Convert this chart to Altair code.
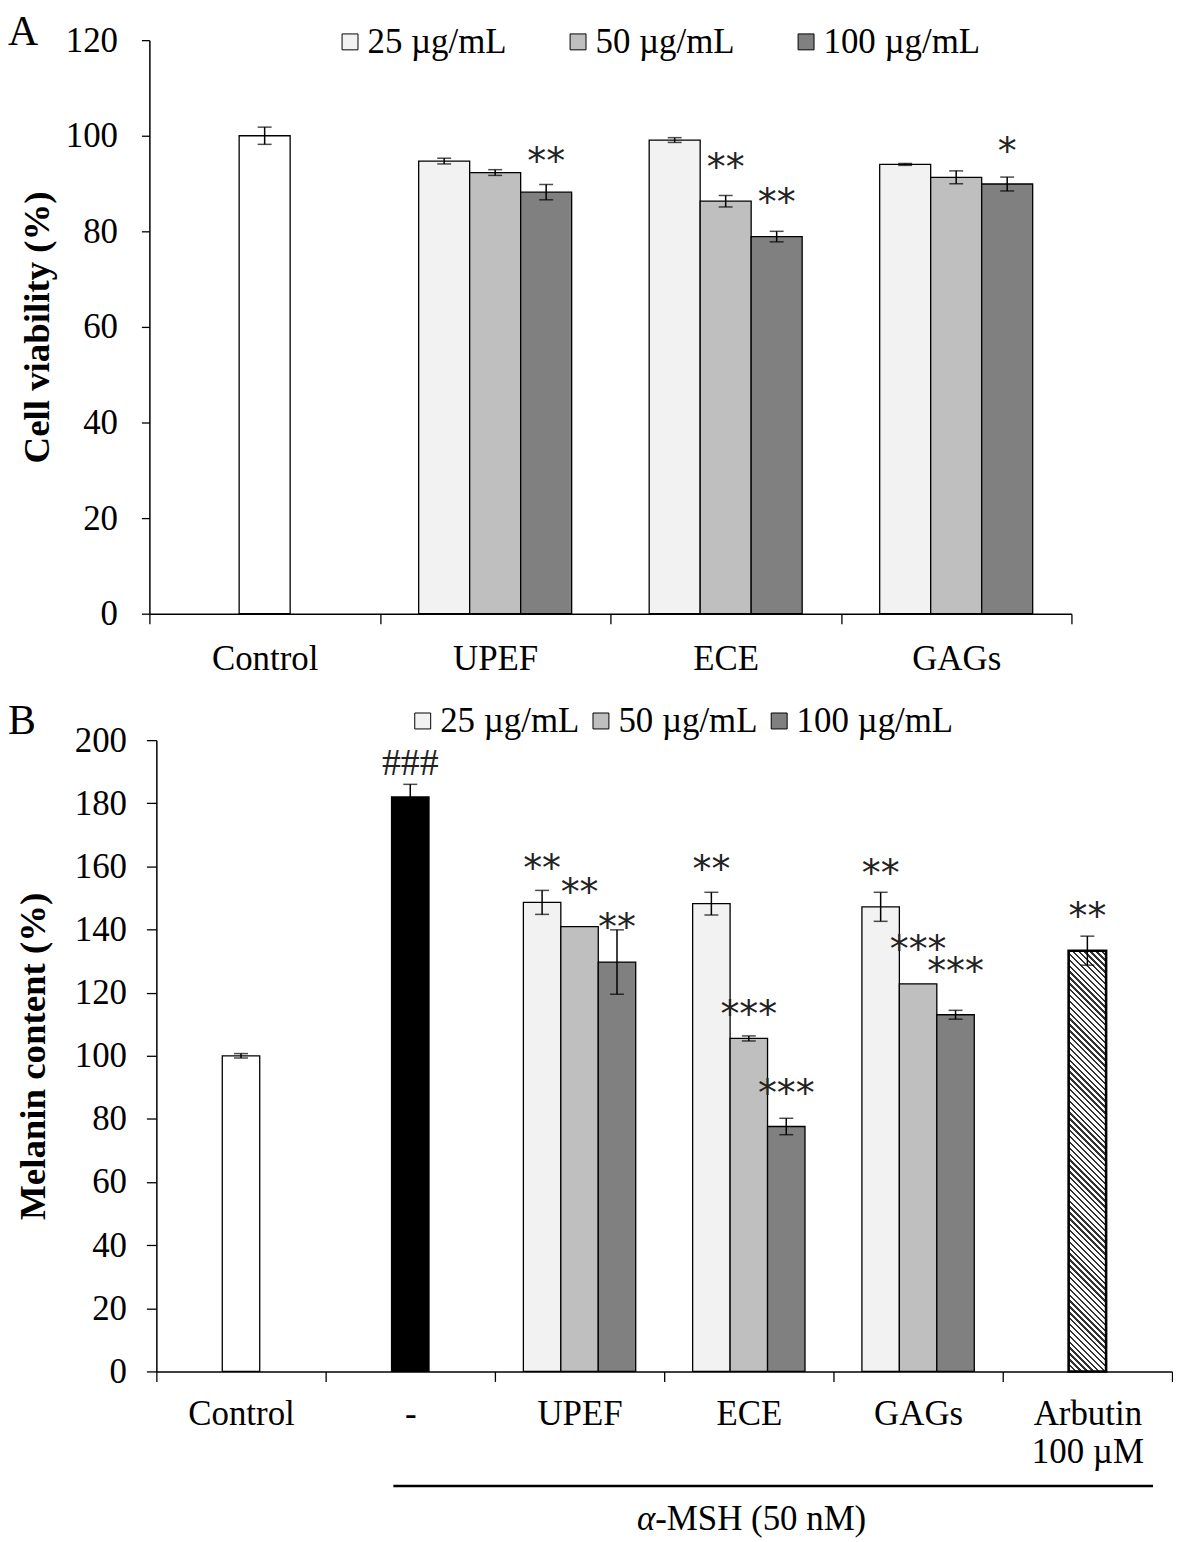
import altair as alt
import pandas as pd

# ---------------- Panel A data (cell viability) ----------------
a_cats = ["Control", "UPEF", "ECE", "GAGs"]
a_cat = ["Control", "UPEF", "UPEF", "UPEF", "ECE", "ECE", "ECE", "GAGs", "GAGs", "GAGs"]
a_grp = ["Control", "25 µg/mL", "50 µg/mL", "100 µg/mL",
         "25 µg/mL", "50 µg/mL", "100 µg/mL",
         "25 µg/mL", "50 µg/mL", "100 µg/mL"]
a_val = [100.0, 94.7, 92.3, 88.2, 99.1, 86.3, 78.9, 94.0, 91.3, 89.9]
a_err = [1.8, 0.6, 0.6, 1.6, 0.5, 1.2, 1.1, 0.2, 1.35, 1.45]
a_sig = ["", "", "", "**", "", "**", "**", "", "", "*"]
# value (in % units) at which each significance mark is centred
a_sig_at = [0, 0, 0, 95.8, 0, 94.4, 87.1, 0, 0, 97.9]

# ---------------- Panel B data (melanin content) ----------------
b_cats = ["Control", "-", "UPEF", "ECE", "GAGs", "Arbutin 100 µM"]
b_cat = ["Control", "-", "UPEF", "UPEF", "UPEF", "ECE", "ECE", "ECE",
         "GAGs", "GAGs", "GAGs", "Arbutin 100 µM"]
b_grp = ["Control", "α-MSH", "25 µg/mL", "50 µg/mL", "100 µg/mL",
         "25 µg/mL", "50 µg/mL", "100 µg/mL",
         "25 µg/mL", "50 µg/mL", "100 µg/mL", "Arbutin"]
b_val = [100.0, 182.0, 148.6, 140.9, 129.7, 148.2, 105.5, 77.6, 147.2, 122.8, 113.0, 133.3]
b_err = [0.7, 4.0, 3.8, 0.0, 10.2, 3.6, 0.8, 2.6, 4.6, 0.0, 1.4, 4.6]
b_sig = ["", "###", "**", "**", "**", "**", "***", "***", "**", "***", "***", "**"]
b_sig_at = [0, 193.1, 160.9, 153.3, 142.3, 160.6, 114.8, 89.9, 159.6, 135.3, 128.4, 145.7]

doses = ["25 µg/mL", "50 µg/mL", "100 µg/mL"]
slot_of = {"25 µg/mL": 0, "50 µg/mL": 1, "100 µg/mL": 2}

SERIF = "Liberation Serif"
FS = 35

SHIFT_A = 7               # panel A plot starts 7px left of panel B's
WA, HA = 926 - SHIFT_A, 576
WB, HB = 1020, 634
POUT = 0.76
ARB_EXPR = "datum.label == 'Arbutin 100 µM' ? ['Arbutin', '100 µM'] : datum.label"


def frame(cat, grp, val, err, sig, sig_at):
    df = pd.DataFrame({"cat": cat, "grp": grp, "val": val, "err": err,
                       "sig": sig, "sig_at": sig_at})
    df["slot"] = [slot_of.get(g, 1) for g in grp]
    df["lo"] = df["val"] - df["err"]
    df["hi"] = df["val"] + df["err"]
    return df


dfa = frame(a_cat, a_grp, a_val, a_err, a_sig, a_sig_at)
dfb = frame(b_cat, b_grp, b_val, b_err, b_sig, b_sig_at)


def x_enc(cats, xlabpad, rng, label_expr=None):
    ax = dict(title=None, labelAngle=0, tickBand="extent", tickSize=10,
              labelFont=SERIF, labelFontSize=FS, labelColor="black",
              domainColor="black", domainWidth=1.5, tickColor="black",
              tickWidth=1.3, labelPadding=xlabpad, labelLineHeight=38)
    if label_expr:
        ax["labelExpr"] = label_expr
    return alt.X("cat:N", sort=cats,
                 scale=alt.Scale(paddingInner=0, paddingOuter=0, range=rng),
                 axis=alt.Axis(**ax))


xoff = alt.XOffset("slot:O", scale=alt.Scale(domain=[0, 1, 2], paddingOuter=POUT, paddingInner=0))


def panel(df, cats, W, H, rng, yoff, ymax, title, color_dom, color_rng, legx, legy, colpad,
          letter, letx, lety, ytick, ylabpad, ytitlepad, xlabpad,
          label_expr=None, extra=None):
    base = alt.Chart(df)
    y = alt.Y("val:Q", scale=alt.Scale(domain=[0, ymax], nice=False),
              axis=alt.Axis(title=title, values=list(range(0, ymax + 1, 20)),
                            grid=False, tickSize=ytick, labelPadding=ylabpad,
                            labelFont=SERIF, labelFontSize=FS, labelColor="black",
                            titleFont=SERIF, titleFontSize=37, titleFontWeight="bold",
                            titleColor="black", titlePadding=ytitlepad,
                            domainColor="black", domainWidth=1.5, offset=yoff,
                            tickColor="black", tickWidth=1.3))
    X = x_enc(cats, xlabpad, rng, label_expr)
    bars = base.transform_filter("datum.grp != 'Arbutin'").mark_bar(
        stroke="black", strokeWidth=1.3).encode(
        x=X, xOffset=xoff, y=y,
        color=alt.Color("grp:N", scale=alt.Scale(domain=color_dom, range=color_rng),
                        legend=alt.Legend(orient="none", legendX=legx, legendY=legy,
                                          direction="horizontal", title=None,
                                          values=doses, symbolType="square",
                                          symbolSize=256, symbolStrokeColor="black",
                                          symbolStrokeWidth=1,
                                          labelFont=SERIF, labelFontSize=FS,
                                          labelColor="black", columnPadding=colpad,
                                          labelOffset=0)))
    eb = base.transform_filter("datum.err > 0")
    rule = eb.mark_rule(color="black", strokeWidth=1.5).encode(
        x=X, xOffset=xoff, y="lo:Q", y2="hi:Q")
    cap_hi = eb.mark_tick(color="black", orient="horizontal", size=14, thickness=1.5).encode(
        x=X, xOffset=xoff, y="hi:Q")
    cap_lo = eb.mark_tick(color="black", orient="horizontal", size=14, thickness=1.5).encode(
        x=X, xOffset=xoff, y="lo:Q")
    stars = base.transform_filter("indexof(datum.sig, '*') >= 0").mark_text(
        font="DejaVu Sans", fontSize=38, color="#222", baseline="middle",
        dy=7).encode(x=X, xOffset=xoff, y="sig_at:Q", text="sig:N")
    hashes = base.transform_filter("indexof(datum.sig, '#') >= 0").mark_text(
        font=SERIF, fontSize=38, color="#222", baseline="middle",
        dy=2).encode(x=X, xOffset=xoff, y="sig_at:Q", text="sig:N")
    let = alt.Chart(pd.DataFrame({"t": [letter]})).mark_text(
        font=SERIF, fontSize=42, color="black", align="left", baseline="alphabetic").encode(
        text="t:N", x=alt.value(letx), y=alt.value(lety))
    layers = [bars, rule, cap_hi, cap_lo, stars, hashes, let]
    if extra:
        layers = layers[:1] + extra[:1] + layers[1:] + extra[1:]
    return alt.layer(*layers).properties(width=W, height=H)


# ---- Panel A ----
pa = panel(dfa, a_cats, WA, HA, [-SHIFT_A, WA], SHIFT_A, 120, "Cell viability (%)",
           ["Control"] + doses, ["white", "#f2f2f2", "#bfbfbf", "#808080"],
           legx=177, legy=-16, colpad=54, letter="A", letx=-149, lety=5,
           ytick=8, ylabpad=24, ytitlepad=9, xlabpad=18)

# ---- Panel B: hatched Arbutin bar via striped gradient ----
step = (WB / len(b_cats)) / (3 + 2 * POUT)
arb_h = b_val[-1] / 200 * HB
r = step / arb_h
k = (r + 1) / (r * r + 1)
N = 78
stops = []
for i in range(N):
    t0 = i / N
    t1 = (i + 0.4) / N
    t2 = (i + 1) / N
    stops += [alt.GradientStop(color="#333333", offset=t0),
              alt.GradientStop(color="#333333", offset=t1),
              alt.GradientStop(color="white", offset=t1),
              alt.GradientStop(color="white", offset=t2)]
hatch = alt.Gradient(gradient="linear", stops=stops, x1=0, y1=1, x2=r * k, y2=1 - k)

arb = alt.Chart(dfb).transform_filter("datum.grp == 'Arbutin'").mark_bar(
    fill=hatch, stroke="black", strokeWidth=2.6).encode(
    x=x_enc(b_cats, 15, [0, WB], ARB_EXPR), xOffset=xoff, y="val:Q")

underline = alt.Chart(pd.DataFrame({"v": [1]})).mark_rule(color="black", strokeWidth=2.5).encode(
    x=alt.value(238), x2=alt.value(1001), y=alt.value(HB + 115))
msh_a = alt.Chart(pd.DataFrame({"t": ["α"]})).mark_text(
    font=SERIF, fontSize=FS, fontStyle="italic", color="black", align="right",
    baseline="middle").encode(text="t:N", x=alt.value(501), y=alt.value(HB + 148))
msh_b = alt.Chart(pd.DataFrame({"t": ["-MSH (50 nM)"]})).mark_text(
    font=SERIF, fontSize=FS, color="black", align="left",
    baseline="middle").encode(text="t:N", x=alt.value(501), y=alt.value(HB + 148))

pb = panel(dfb, b_cats, WB, HB, [0, WB], 0, 200, "Melanin content (%)",
           ["Control", "α-MSH"] + doses, ["white", "black", "#f2f2f2", "#bfbfbf", "#808080"],
           legx=250, legy=-37, colpad=4, letter="B", letx=-149, lety=-6,
           ytick=10, ylabpad=20, ytitlepad=22, xlabpad=15,
           label_expr=ARB_EXPR,
           extra=[arb, underline, msh_a, msh_b])

chart = alt.vconcat(pa, pb, spacing=24).properties(
    padding={"left": 0, "right": 0, "top": 0, "bottom": 0}).configure_view(
    stroke=None).resolve_scale(color="independent", x="independent", y="independent",
                               xOffset="independent")

chart.save("out.html", embed_options={"renderer": "svg", "actions": False})
